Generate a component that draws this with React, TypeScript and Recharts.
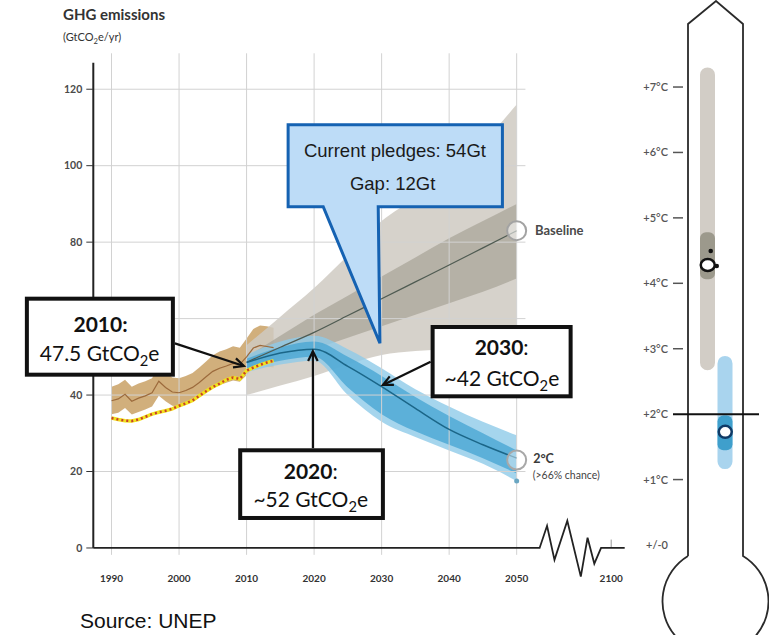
import React from "react";
import {
  ComposedChart,
  Area,
  Line,
  Bar,
  Cell,
  XAxis,
  YAxis,
  ReferenceLine,
  ReferenceDot,
} from "recharts";

// ---- historical emissions (GtCO2e/yr) ----
const histYears = [
  1990, 1991, 1992, 1993, 1994, 1995, 1996, 1997, 1998, 1999, 2000, 2001, 2002,
  2003, 2004, 2005, 2006, 2007, 2008, 2009, 2010, 2011, 2012, 2013, 2014,
];
const inventory = [
  34.0, 33.6, 33.3, 33.2, 33.6, 34.3, 35.0, 35.5, 35.9, 36.4, 37.2, 37.8, 38.6,
  39.8, 41.0, 42.1, 43.0, 44.0, 44.6, 44.2, 46.4, 47.2, 47.9, 48.5, 49.0,
];
const histCentre = [
  38.5, 39.0, 40.2, 38.4, 39.2, 39.8, 40.6, 43.6, 42.0, 40.8, 40.6, 41.2, 42.0,
  43.3, 44.8, 46.2, 47.0, 47.6, 48.3, 48.0, 50.0, 52.3, 53.0, 52.7, 52.4,
];
const histLow = [
  35.0, 35.4, 36.6, 34.9, 35.6, 36.2, 37.0, 39.8, 38.4, 37.2, 37.0, 37.6, 38.3,
  39.5, 40.8, 42.0, 42.6, 43.2, 43.8, 43.5, 45.2, 47.2, 47.8, 47.5, 47.2,
];
const histHigh = [
  42.2, 42.8, 44.0, 42.2, 43.0, 43.6, 44.4, 47.6, 45.8, 44.6, 44.4, 45.0, 45.8,
  47.2, 48.8, 50.4, 51.4, 52.0, 52.8, 52.4, 54.8, 57.3, 58.2, 58.0, 57.6,
];

// ---- projections ----
const projYears = [2010, 2015, 2020, 2025, 2030, 2035, 2040, 2045, 2050];
const baseMid = [48.6, 52.5, 56.4, 60.8, 65.2, 69.6, 74.0, 78.5, 83.0];
const baseLikelyLow = [47.0, 49.5, 52.0, 55.0, 58.0, 61.0, 64.0, 67.0, 70.5];
const baseLikelyHigh = [50.0, 55.5, 61.0, 66.0, 71.0, 76.0, 81.0, 85.5, 90.0];
const baseRangeLow = [40.0, 42.5, 45.0, 48.0, 50.5, 51.5, 52.0, 52.3, 52.5];
const baseRangeHigh = [53.0, 60.5, 68.0, 76.5, 85.5, 91.5, 97.5, 106.0, 116.0];

const twoMid = [48.5, 51.0, 52.0, 47.5, 42.2, 36.5, 31.0, 27.0, 23.5];
const twoLikelyLow = [47.0, 49.0, 50.0, 42.0, 35.0, 30.5, 27.0, 23.5, 19.5];
const twoLikelyHigh = [49.5, 52.5, 54.0, 50.0, 45.0, 39.5, 34.5, 30.0, 25.5];
const twoRangeLow = [46.0, 48.0, 49.0, 40.0, 33.0, 29.0, 25.5, 22.0, 17.5];
const twoRangeHigh = [50.5, 54.0, 55.5, 52.0, 47.0, 41.5, 37.0, 33.0, 29.5];

// ---- axes ----
const yTicks = [0, 20, 40, 60, 80, 100, 120];
const xTicks = [1990, 2000, 2010, 2020, 2030, 2040, 2050];
const breakYear = 2064; // where 2100 sits after the axis break
const axisBreak = [
  { year: 1987.3, v: 0 },
  { year: 2053.4, v: 0 },
  { year: 2054.5, v: 5.8 },
  { year: 2055.6, v: -3.1 },
  { year: 2057.5, v: 7.1 },
  { year: 2059.5, v: -7.5 },
  { year: 2060.5, v: 2.7 },
  { year: 2061.5, v: -4.1 },
  { year: 2062.5, v: 0 },
  { year: 2066, v: 0 },
];

// ---- thermometer (warming by 2100, degC) ----
const tempTicks = [0, 1, 2, 3, 4, 5, 6, 7];
const tempCases = ["Baseline", "2°C"];
const tempRangeLow = [2.67, 1.16];
const tempRangeHigh = [7.3, 2.89];
const tempLikelyLow = [4.06, 1.45];
const tempLikelyHigh = [4.78, 1.98];
const tempMedian = [4.28, 1.73];

const histData = histYears.map((year, i) => ({
  year,
  inv: inventory[i],
  mid: histCentre[i],
  band: [histLow[i], histHigh[i]],
}));

const projData = projYears.map((year, i) => ({
  year,
  bMid: baseMid[i],
  bLikely: [baseLikelyLow[i], baseLikelyHigh[i]],
  bRange: [baseRangeLow[i], baseRangeHigh[i]],
  tMid: twoMid[i],
  tLikely: [twoLikelyLow[i], twoLikelyHigh[i]],
  tRange: [twoRangeLow[i], twoRangeHigh[i]],
}));

const tempData = tempCases.map((name, i) => ({
  name,
  range: [tempRangeLow[i], tempRangeHigh[i]],
  likely: [tempLikelyLow[i], tempLikelyHigh[i]],
  median: tempMedian[i],
}));

const FONT = "Lato, 'Open Sans', sans-serif";
const gridColor = "#d2d2d2";
const X_DOMAIN: [number, number] = [1987.3, 2066];
const Y_DOMAIN: [number, number] = [-10, 130];

const Arrow = ({ x1, y1, x2, y2 }: any) => {
  const a = Math.atan2(y2 - y1, x2 - x1);
  const L = 11;
  const s = 0.45;
  const p1 = [x2 - L * Math.cos(a - s), y2 - L * Math.sin(a - s)];
  const p2 = [x2 - L * Math.cos(a + s), y2 - L * Math.sin(a + s)];
  return (
    <g stroke="#111" strokeWidth={2.2} fill="none">
      <line x1={x1} y1={y1} x2={x2} y2={y2} />
      <polyline points={`${p1[0]},${p1[1]} ${x2},${y2} ${p2[0]},${p2[1]}`} />
    </g>
  );
};

const GtCO2e = ({ pre }: { pre: string }) => (
  <>
    {pre} GtCO<tspan fontSize="70%" dy={5}>2</tspan>
    <tspan dy={-5}>e</tspan>
  </>
);

const Box2010 = ({ cx, cy }: any) => (
  <g fontFamily={FONT}>
    <Arrow x1={cx - 71.7} y1={cy - 23} x2={cx - 2.7} y2={cy - 0.4} />
    <rect x={cx - 219.7} y={cy - 67.7} width={146} height={76} fill="#fff" stroke="#111" strokeWidth={4} />
    <text x={cx - 146} y={cy - 34.4} textAnchor="middle" fontSize={21} fontWeight={700} fill="#111">
      2010:
    </text>
    <text x={cx - 147} y={cy - 5.4} textAnchor="middle" fontSize={21} fill="#111">
      <GtCO2e pre="47.5" />
    </text>
  </g>
);

const Box2020 = ({ cx, cy }: any) => (
  <g fontFamily={FONT}>
    <Arrow x1={cx - 1.2} y1={cy + 99} x2={cx - 1.2} y2={cy + 2} />
    <rect x={cx - 73.9} y={cy + 101.1} width={142.7} height={67.7} fill="#fff" stroke="#111" strokeWidth={4} />
    <text x={cx - 3.4} y={cy + 130} textAnchor="middle" fontSize={21} fill="#111">
      <tspan fontWeight={700}>2020</tspan>:
    </text>
    <text x={cx - 3.4} y={cy + 158.3} textAnchor="middle" fontSize={21} fill="#111">
      <GtCO2e pre="~52" />
    </text>
  </g>
);

const Box2030 = ({ cx, cy }: any) => (
  <g fontFamily={FONT}>
    <Arrow x1={cx + 49} y1={cy - 25.7} x2={cx + 1.3} y2={cy - 2.4} />
    <rect x={cx + 51} y={cy - 60.4} width={138} height={69.3} fill="#fff" stroke="#111" strokeWidth={4} />
    <text x={cx + 120} y={cy - 32.9} textAnchor="middle" fontSize={21} fill="#111">
      <tspan fontWeight={700}>2030</tspan>:
    </text>
    <text x={cx + 120.3} y={cy - 1.9} textAnchor="middle" fontSize={21} fill="#111">
      <GtCO2e pre="~42" />
    </text>
  </g>
);

const Callout = ({ cx, cy }: any) => {
  const l = cx - 93.5;
  const r = cx + 120.8;
  const t = cy - 216.8;
  const b = cy - 134.8;
  const d = `M${l},${t} L${r},${t} L${r},${b} L${cx - 3.4},${b} L${cx - 1.7},${cy + 1.7} L${cx - 58.4},${b} L${l},${b} Z`;
  return (
    <g fontFamily="'Liberation Sans', Arial, sans-serif">
      <path d={d} fill="#bddcf7" stroke="#1562b2" strokeWidth={3} strokeLinejoin="miter" />
      <text x={cx + 13.3} y={cy - 184.8} textAnchor="middle" fontSize={18.5} fill="#1a1a1a">
        Current pledges: 54Gt
      </text>
      <text x={cx + 11} y={cy - 151.5} textAnchor="middle" fontSize={18.5} fill="#1a1a1a">
        Gap: 12Gt
      </text>
    </g>
  );
};

const BaselineMark = ({ cx, cy }: any) => (
  <g fontFamily={FONT}>
    <circle cx={cx} cy={cy} r={9.5} fill="rgba(255,255,255,0.55)" stroke="#a3a3a3" strokeWidth={2} />
    <text x={cx + 18.3} y={cy + 4.7} fontSize={13} fontWeight={700} fill="#4a4a4a">
      Baseline
    </text>
  </g>
);

const TwoDegMark = ({ cx, cy }: any) => (
  <g fontFamily={FONT}>
    <circle cx={cx} cy={cy} r={9.5} fill="rgba(255,255,255,0.45)" stroke="#a8a8a8" strokeWidth={2} />
    <text x={cx + 16.5} y={cy + 2.9} fontSize={12.5} fontWeight={700} fill="#3a3a3a">
      2°C
    </text>
    <text x={cx + 16} y={cy + 18.6} fontSize={10.5} fill="#444">
      (&gt;66% chance)
    </text>
  </g>
);

const XTick = ({ x, y, payload }: any) => (
  <text x={x} y={y - 4.5} textAnchor="middle" fontSize={10} fontWeight={700} fill="#333" fontFamily={FONT}>
    {payload.value === breakYear ? "2100" : payload.value}
  </text>
);

const TempTick = ({ x, y, payload }: any) => {
  const v = payload.value;
  return (
    <g>
      <text x={x - 31} y={y + 4} textAnchor="end" fontSize={11} fontWeight={600} fill="#555" fontFamily={FONT}>
        {v === 0 ? "+/-0" : `+${v}°C`}
      </text>
      {v === 2 ? (
        <line x1={x - 26} x2={x + 60} y1={y} y2={y} stroke="#111" strokeWidth={2} />
      ) : v !== 0 ? (
        <line x1={x - 26} x2={x - 16} y1={y} y2={y} stroke="#555" strokeWidth={1.5} />
      ) : null}
    </g>
  );
};

const TempDot = ({ cx, cy, index }: any) =>
  index === 0 ? (
    <g>
      <circle cx={cx + 3} cy={cy - 14} r={2.3} fill="#111" />
      <circle cx={cx + 9} cy={cy + 1} r={2.3} fill="#111" />
      <ellipse cx={cx} cy={cy} rx={7} ry={6} fill="#fff" stroke="#111" strokeWidth={2.5} />
    </g>
  ) : (
    <ellipse cx={cx} cy={cy} rx={6.5} ry={6} fill="#fff" stroke="#0f3a66" strokeWidth={2.5} />
  );

const rangeColors = ["#d2cdc6", "#a9d4ee"];
const likelyColors = ["#9c998c", "#3f9fcc"];

export default function App() {
  return (
    <div style={{ position: "absolute", left: 0, top: 0, width: 769, height: 635, background: "#fff", fontFamily: FONT }}>
      <div style={{ position: "absolute", left: 0, top: 0 }}>
        <ComposedChart width={769} height={635} margin={{ top: 51, right: 144.3, bottom: 18.8, left: 33.3 }}>
          <XAxis
            type="number"
            dataKey="year"
            domain={X_DOMAIN}
            ticks={[...xTicks, breakYear]}
            axisLine={false}
            tickLine={false}
            tickSize={0}
            tickMargin={0}
            height={30}
            tick={<XTick />}
          />
          <YAxis
            type="number"
            domain={Y_DOMAIN}
            ticks={yTicks}
            axisLine={false}
            tickLine={{ stroke: "#333" }}
            tickSize={7}
            tickMargin={4}
            width={60}
            tick={{ fontSize: 10.5, fontWeight: 700, fill: "#4a4a4a", fontFamily: FONT }}
          />
          {xTicks.map((t) => (
            <ReferenceLine key={`v${t}`} segment={[{ x: t, y: -1.8 }, { x: t, y: 129.4 }]} stroke={gridColor} strokeWidth={1} />
          ))}
          {yTicks
            .filter((t) => t > 0)
            .map((t) => (
              <ReferenceLine key={`h${t}`} segment={[{ x: 1987.3, y: t }, { x: 2051.3, y: t }]} stroke={gridColor} strokeWidth={1} />
            ))}
          <ReferenceLine segment={[{ x: breakYear, y: 0 }, { x: breakYear, y: 2.2 }]} stroke="#999" strokeWidth={1} />

          <Area data={histData} dataKey="band" type="linear" stroke="none" fill="#c9a165" fillOpacity={0.85} isAnimationActive={false} />
          <Line data={histData} dataKey="mid" type="linear" stroke="#9c6a3c" strokeWidth={1.2} dot={false} isAnimationActive={false} />

          <Area data={projData} dataKey="bRange" type="monotone" stroke="none" fill="#cfcac2" fillOpacity={0.85} isAnimationActive={false} />
          <Area data={projData} dataKey="bLikely" type="monotone" stroke="none" fill="#a9a59a" fillOpacity={0.75} isAnimationActive={false} />
          <Line data={projData} dataKey="bMid" type="monotone" stroke="#4f5b52" strokeWidth={1.2} dot={false} isAnimationActive={false} />

          <Area data={projData} dataKey="tRange" type="monotone" stroke="none" fill="#8ecae8" fillOpacity={0.8} isAnimationActive={false} />
          <Area data={projData} dataKey="tLikely" type="monotone" stroke="none" fill="#4aa6d3" fillOpacity={0.8} isAnimationActive={false} />
          <Line data={projData} dataKey="tMid" type="monotone" stroke="#1b6688" strokeWidth={1.5} dot={false} isAnimationActive={false} />

          <Line data={histData} dataKey="inv" type="linear" stroke="#f1e21d" strokeWidth={3.5} dot={false} isAnimationActive={false} />
          <Line data={histData} dataKey="inv" type="linear" stroke="#c8402a" strokeWidth={2.5} strokeDasharray="2 3" dot={false} isAnimationActive={false} />

          <Line data={axisBreak} dataKey="v" type="linear" stroke="#222" strokeWidth={1.8} dot={false} isAnimationActive={false} />
          <ReferenceLine segment={[{ x: 1987.3, y: 0 }, { x: 1987.3, y: 126.9 }]} stroke="#222" strokeWidth={2} />

          <ReferenceDot x={2050} y={17.5} r={2.5} fill="#6aa6c2" stroke="none" />
          <ReferenceDot x={2050} y={83} r={9.5} shape={(p: any) => <BaselineMark cx={p.cx} cy={p.cy} />} />
          <ReferenceDot x={2050} y={23} r={9.5} shape={(p: any) => <TwoDegMark cx={p.cx} cy={p.cy} />} />
        </ComposedChart>
      </div>

      <svg width={769} height={635} style={{ position: "absolute", left: 0, top: 0, pointerEvents: "none" }}>
        <path d="M688,556 L688,24 L716,1 L743,24 L743,556 A53,53 0 1 1 688,556" fill="none" stroke="#2a2a2a" strokeWidth={1.8} />
      </svg>

      <div style={{ position: "absolute", left: 609, top: 0 }}>
        <ComposedChart width={160} height={635} data={tempData} margin={{ top: 21.6, right: 35, bottom: 90, left: 0 }} barCategoryGap={0}>
          <XAxis xAxisId="r" dataKey="name" hide height={0} />
          <XAxis xAxisId="l" dataKey="name" hide height={0} />
          <YAxis
            type="number"
            domain={[0, 8]}
            ticks={tempTicks}
            width={90}
            axisLine={false}
            tickLine={false}
            tickSize={0}
            tickMargin={0}
            tick={<TempTick />}
          />
          <Bar xAxisId="r" dataKey="range" barSize={15} radius={7.5} isAnimationActive={false}>
            {tempData.map((d, i) => (
              <Cell key={d.name} fill={rangeColors[i]} />
            ))}
          </Bar>
          <Bar xAxisId="l" dataKey="likely" barSize={15} radius={6} isAnimationActive={false}>
            {tempData.map((d, i) => (
              <Cell key={d.name} fill={likelyColors[i]} />
            ))}
          </Bar>
          <Line xAxisId="r" dataKey="median" stroke="none" dot={<TempDot />} activeDot={false} isAnimationActive={false} />
        </ComposedChart>
      </div>

      {/* annotation layer: same scales as the main chart, drawn above its axes */}
      <div style={{ position: "absolute", left: 0, top: 0 }}>
        <ComposedChart width={769} height={635} margin={{ top: 51, right: 144.3, bottom: 48.8, left: 93.3 }}>
          <XAxis type="number" dataKey="year" domain={X_DOMAIN} hide />
          <YAxis type="number" domain={Y_DOMAIN} hide />
          <Line data={axisBreak} dataKey="v" stroke="none" dot={false} activeDot={false} isAnimationActive={false} />
          <ReferenceDot x={2010} y={47.5} r={1} shape={(p: any) => <Box2010 cx={p.cx} cy={p.cy} />} />
          <ReferenceDot x={2020} y={52} r={1} shape={(p: any) => <Box2020 cx={p.cx} cy={p.cy} />} />
          <ReferenceDot x={2030} y={42} r={1} shape={(p: any) => <Box2030 cx={p.cx} cy={p.cy} />} />
          <ReferenceDot x={2030} y={54} r={1} shape={(p: any) => <Callout cx={p.cx} cy={p.cy} />} />
        </ComposedChart>
      </div>

      <svg width={769} height={635} style={{ position: "absolute", left: 0, top: 0, pointerEvents: "none" }}>
        <text x={63} y={20} fontSize={15} fontWeight={700} fill="#333" fontFamily={FONT}>
          GHG emissions
        </text>
        <text x={63} y={41} fontSize={11} fill="#333" fontFamily={FONT}>
          (GtCO<tspan fontSize="70%" dy={3}>2</tspan>
          <tspan dy={-3}>e/yr)</tspan>
        </text>
        <text x={80} y={628} fontSize={21} fill="#111" fontFamily="'Liberation Sans', Arial, sans-serif">
          Source: UNEP
        </text>
      </svg>
    </div>
  );
}
